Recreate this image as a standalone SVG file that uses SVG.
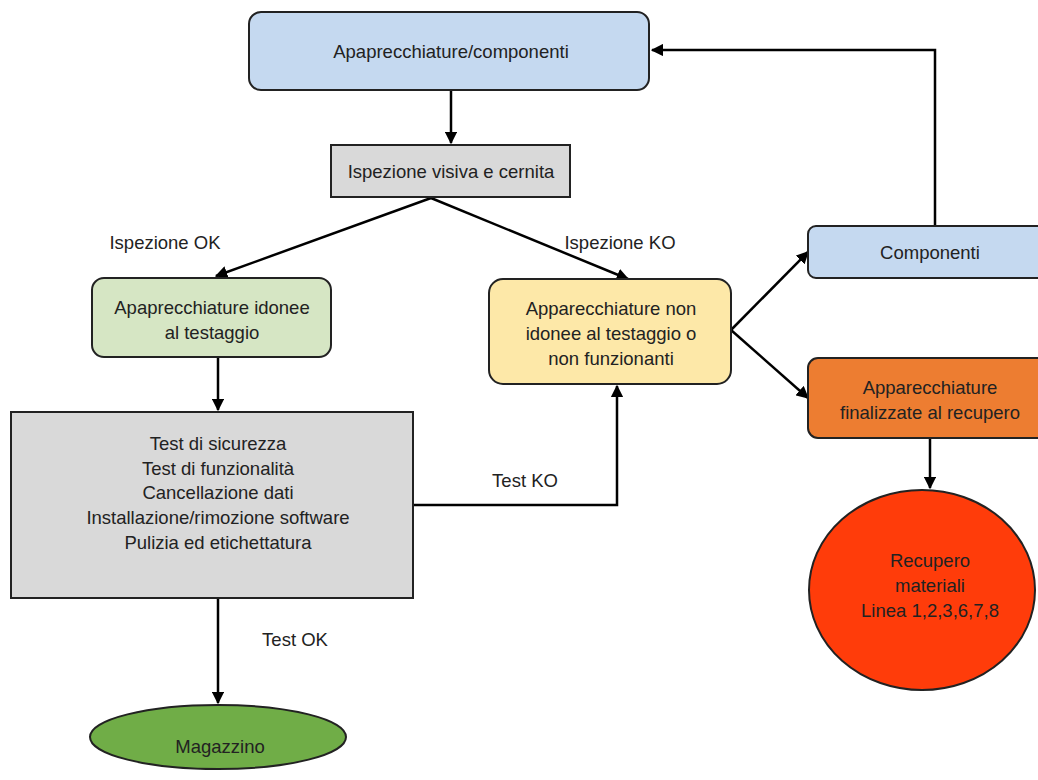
<svg xmlns="http://www.w3.org/2000/svg" width="1038" height="780" viewBox="0 0 1038 780">
<defs>
<marker id="ah" viewBox="0 0 10 10" refX="9" refY="5" markerWidth="5" markerHeight="5" orient="auto">
<path d="M0,0 L10,5 L0,10 z" fill="#000"/>
</marker>
<style>
.t{font-family:"Liberation Sans",Arial,sans-serif;font-size:18.5px;fill:#222;text-anchor:middle}
.b{stroke:#222;stroke-width:2}
.c{fill:none;stroke:#000;stroke-width:2.5;marker-end:url(#ah)}
</style>
</defs>
<rect width="1038" height="780" fill="#fff"/>
<g id="connectors">
<path class="c" d="M451,90 V143"/>
<path class="c" d="M431,198 L216,276"/>
<path class="c" d="M431,198 L628,279"/>
<path class="c" d="M218,357 V410"/>
<path class="c" d="M413,505 H617 V386"/>
<path class="c" d="M731,330 L808,252"/>
<path class="c" d="M731,330 L808,398"/>
<path class="c" d="M935,226 V50 H652"/>
<path class="c" d="M930,438 V488"/>
<path class="c" d="M218,598 V703"/>
<text class="t" x="165" y="249" font-size="17">Ispezione OK</text>
<text class="t" x="620" y="249" font-size="17">Ispezione KO</text>
<text class="t" x="525" y="487">Test KO</text>
<text class="t" x="295" y="646">Test OK</text>
</g>
<g id="n1"><rect class="b" x="249" y="12" width="400" height="78" rx="12" fill="#c5d9f0"/><text class="t" x="451" y="58">Apaprecchiature/componenti</text></g>
<g id="n2"><rect class="b" x="331" y="145" width="239" height="52" fill="#d9d9d9"/><text class="t" x="451" y="178">Ispezione visiva e cernita</text></g>
<g id="n3"><rect class="b" x="92" y="278" width="239" height="79" rx="12" fill="#d6e6c4"/><text class="t" x="212" y="314">Apaprecchiature idonee</text><text class="t" x="212" y="339">al testaggio</text></g>
<g id="n4"><rect class="b" x="489" y="279" width="242" height="105" rx="14" fill="#fde8a8"/><text class="t" x="611" y="315">Apparecchiature non</text><text class="t" x="611" y="340">idonee al testaggio o</text><text class="t" x="611" y="365">non funzionanti</text></g>
<g id="n5"><rect class="b" x="11" y="412" width="402" height="186" fill="#d9d9d9"/><text class="t" x="218" y="450">Test di sicurezza</text><text class="t" x="218" y="475">Test di funzionalità</text><text class="t" x="218" y="499">Cancellazione dati</text><text class="t" x="218" y="524">Installazione/rimozione software</text><text class="t" x="218" y="549">Pulizia ed etichettatura</text></g>
<g id="n6"><rect class="b" x="808" y="226" width="240" height="52" rx="8" fill="#c5d9f0"/><text class="t" x="930" y="259">Componenti</text></g>
<g id="n7"><rect class="b" x="808" y="358" width="240" height="80" rx="10" fill="#ed7d31"/><text class="t" x="930" y="394">Apparecchiature</text><text class="t" x="930" y="419">finalizzate al recupero</text></g>
<g id="n8"><ellipse class="b" cx="922" cy="590" rx="113" ry="100" fill="#ff3c0a"/><text class="t" x="930" y="567" font-size="17.5">Recupero</text><text class="t" x="930" y="592" font-size="17.5">materiali</text><text class="t" x="930" y="617" font-size="17.5">Linea 1,2,3,6,7,8</text></g>
<g id="n9"><ellipse class="b" cx="218" cy="737" rx="128" ry="32" fill="#70ad47"/><text class="t" x="220" y="753" font-size="14">Magazzino</text></g>
</svg>
